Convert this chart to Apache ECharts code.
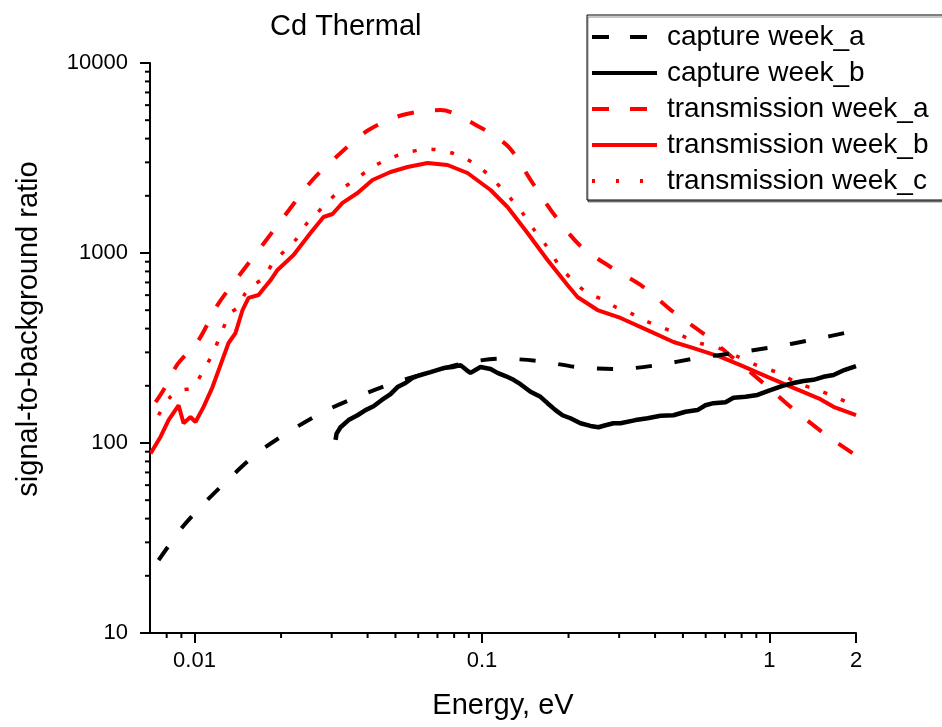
<!DOCTYPE html>
<html><head><meta charset="utf-8">
<script src="https://cdn.jsdelivr.net/npm/echarts@6/dist/echarts.min.js"></script>
<style>html,body{margin:0;padding:0;background:#fff}#c{width:942px;height:727px}</style>
</head><body><div id="c"></div>
<script>
// ---- Data (energy in eV, signal-to-background ratio) ----
const seriesNames = ['capture week_a','capture week_b','transmission week_a','transmission week_b','transmission week_c'];

const captureWeekA = [
  [0.0075,24.2],[0.00908,36.1],[0.01066,47.2],[0.01334,66],[0.01656,88.6],[0.02158,116],
  [0.0281,146],[0.0369,175],[0.04923,207],[0.06621,236],[0.0855,262],[0.116,278],
  [0.1572,270],[0.2149,251],[0.296,245],[0.4077,257],[0.5618,280],[0.762,298],
  [1.033,320],[1.388,348],[1.9,384],[2,392]
];

const captureWeekB = [
  [0.03094,104],[0.0312,112],[0.0322,121],[0.03434,132],[0.0369,140],[0.03934,149],
  [0.04194,156],[0.04471,168],[0.04806,181],[0.05083,197],[0.0542,207],[0.05731,220],
  [0.06111,228],[0.06621,236],[0.07347,248],[0.07897,251],[0.08418,257],[0.08834,242],
  [0.0912,234],[0.09881,251],[0.1071,245],[0.1132,234],[0.1207,225],[0.1287,215],
  [0.1361,204],[0.1475,186],[0.1597,175],[0.169,162],[0.1802,149],[0.1905,140],
  [0.2031,135],[0.2201,127],[0.2384,123],[0.2542,121],[0.2689,124],[0.2867,127],
  [0.3032,127],[0.342,132],[0.3765,135],[0.4178,139],[0.4636,140],[0.5104,146],
  [0.5618,149],[0.5989,158],[0.6385,162],[0.7031,164],[0.7495,173],[0.825,175],
  [0.9085,179],[1.008,190],[1.11,200],[1.212,207],[1.313,212],[1.422,215],
  [1.541,223],[1.67,228],[1.82,242],[2,254]
];

const transmissionWeekA = [
  [0.00732,164],[0.0078,190],[0.00873,260],[0.01033,348],[0.01202,532],[0.01434,766],
  [0.01724,1102],[0.02106,1644],[0.02572,2423],[0.03194,3320],[0.0403,4440],[0.0529,5325],
  [0.0717,5650],[0.098,4604],[0.1237,3614],[0.1499,2336],[0.1787,1585],[0.2201,1089],
  [0.28,844],[0.3646,662],[0.4636,489],[0.6038,366],[0.7555,277],[0.976,200],
  [1.241,146],[1.578,110],[2,86]
];

const transmissionWeekB = [
  [0.00703,88],[0.00762,108],[0.00812,132],[0.0088,158],[0.00916,127],[0.00968,137],
  [0.01008,129],[0.01075,155],[0.01155,197],[0.01231,257],[0.01313,336],[0.01388,379],
  [0.01469,501],[0.01541,580],[0.0167,601],[0.01724,639],[0.0184,720],[0.01944,814],
  [0.0221,976],[0.02532,1275],[0.0281,1547],[0.0302,1604],[0.03272,1834],[0.0369,2069],
  [0.0416,2423],[0.04806,2669],[0.05508,2835],[0.06464,2976],[0.07586,2905],[0.08905,2637],
  [0.1071,2146],[0.1227,1746],[0.144,1275],[0.169,919],[0.1983,678],[0.2149,587],
  [0.2522,501],[0.3032,455],[0.3765,393],[0.4636,340],[0.5441,316],[0.6754,284],
  [0.7926,257],[0.9842,223],[1.212,195],[1.504,170],[1.67,155],[2,140]
];

const transmissionWeekC = [
  [0.0075,140],[0.00825,175],[0.00908,190],[0.00984,195],[0.01075,242],[0.01155,294],
  [0.01251,393],[0.01334,483],[0.01422,520],[0.01504,616],[0.01604,678],[0.01738,739],
  [0.01883,897],[0.02073,1037],[0.02246,1171],[0.02433,1404],[0.02593,1547],[0.02901,1855],
  [0.0322,2146],[0.0369,2481],[0.0416,2835],[0.04806,3162],[0.05597,3401],[0.06464,3527],
  [0.07647,3401],[0.08834,3124],[0.09881,2802],[0.1105,2393],[0.1237,1995],[0.1384,1624],
  [0.1511,1337],[0.1676,1089],[0.186,855],[0.2064,721],[0.2328,616],[0.2646,566],
  [0.296,513],[0.3285,483],[0.3646,444],[0.4279,403],[0.4901,370],[0.5708,336],
  [0.6646,316],[0.78,284],[0.9157,254],[1.075,234],[1.251,207],[1.469,190],
  [1.724,173],[2,155]
];

// ---- Axis tick values ----
const xMin = 0.007, xMax = 2, yMin = 10, yMax = 10000;
const xMinorTicks = [0.008,0.009,0.02,0.03,0.04,0.05,0.06,0.07,0.08,0.09,0.2,0.3,0.4,0.5,0.6,0.7,0.8,0.9];
const yMinorTicks = [20,30,40,50,60,70,80,90,200,300,400,500,600,700,800,900,2000,3000,4000,5000,6000,7000,8000,9000];

const FONT = 'Liberation Sans, Arial, Helvetica, sans-serif';

function fmt(v){
  if (Math.abs(v - 2) < 1e-6) return '2';
  const r = Number(v.toPrecision(3));
  return String(r);
}

function minorTickSeries(data, isX){
  return {
    type:'custom', silent:true, clip:false, z:5,
    data: data,
    renderItem: function(params, api){
      const p = api.coord([api.value(0), api.value(1)]);
      const shape = isX ? {x1:p[0], y1:p[1], x2:p[0], y2:p[1]+5}
                        : {x1:p[0], y1:p[1], x2:p[0]-5, y2:p[1]};
      return {type:'line', shape:shape, style:{stroke:'#000', lineWidth:2}};
    }
  };
}

const noSym = {color:'rgba(0,0,0,0)', borderWidth:0, borderColor:'rgba(0,0,0,0)'};

const chart = echarts.init(document.getElementById('c'), null, {renderer:'canvas'});
chart.setOption({
  animation:false,
  backgroundColor:'#fff',
  textStyle:{fontFamily:FONT},
  title:{
    text:'Cd Thermal', left:265, top:7,
    textStyle:{fontSize:29, fontWeight:'normal', color:'#000', fontFamily:FONT}
  },
  legend:{
    orient:'vertical', left:587, top:15,
    padding:[7,45,4,3],
    itemWidth:65, itemHeight:14, itemGap:6,
    borderColor:'#000', borderWidth:1, backgroundColor:'#fff',
    shadowColor:'rgba(0,0,0,0.45)', shadowOffsetX:1, shadowOffsetY:2, shadowBlur:0,
    itemStyle: noSym,
    textStyle:{fontSize:28, lineHeight:30, color:'#000', fontFamily:FONT, padding:[0,0,0,5]},
    data:[
      {name:seriesNames[0], itemStyle:noSym, lineStyle:{type:[17,21], width:4}},
      {name:seriesNames[1], itemStyle:noSym, lineStyle:{type:'solid', width:4}},
      {name:seriesNames[2], itemStyle:noSym, lineStyle:{type:[17,21], width:4}},
      {name:seriesNames[3], itemStyle:noSym, lineStyle:{type:'solid', width:4}},
      {name:seriesNames[4], itemStyle:noSym, lineStyle:{type:[3,21], width:4}}
    ]
  },
  grid:{left:150, right:86, top:63, bottom:94, containLabel:false, outerBoundsMode:'none'},
  xAxis:{
    type:'log', min:xMin, max:xMax, logBase:10,
    name:'Energy, eV', nameLocation:'middle', nameGap:58,
    nameTextStyle:{fontSize:29, color:'#000', fontFamily:FONT},
    axisLine:{show:true, onZero:false, lineStyle:{color:'#000', width:2}},
    axisTick:{show:true, inside:false, length:10, lineStyle:{color:'#000', width:2}},
    axisLabel:{fontSize:22, color:'#000', margin:17, showMinLabel:false, showMaxLabel:true, formatter:fmt, fontFamily:FONT},
    splitLine:{show:false}, minorTick:{show:false}
  },
  yAxis:{
    type:'log', min:yMin, max:yMax, logBase:10,
    name:'signal-to-background ratio', nameLocation:'middle', nameGap:107,
    nameTextStyle:{fontSize:29, color:'#000', fontFamily:FONT, padding:[0,0,0,38]},
    axisLine:{show:true, onZero:false, lineStyle:{color:'#000', width:2}},
    axisTick:{show:true, inside:false, length:10, lineStyle:{color:'#000', width:2}},
    axisLabel:{fontSize:22, color:'#000', margin:22, formatter:fmt, fontFamily:FONT},
    splitLine:{show:false}, minorTick:{show:false}
  },
  series:[
    minorTickSeries(xMinorTicks.map(v=>[v, yMin]), true),
    minorTickSeries(yMinorTicks.map(v=>[xMin, v]), false),
    {name:seriesNames[3], type:'line', data:transmissionWeekB, showSymbol:false, symbol:'none',
     lineStyle:{color:'#ff0000', width:4, type:'solid'}, itemStyle:{color:'#ff0000'}, z:2},
    {name:seriesNames[4], type:'line', data:transmissionWeekC, showSymbol:false, symbol:'none', smooth:0.3,
     lineStyle:{color:'#ff0000', width:3.5, type:[4,15]}, itemStyle:{color:'#ff0000'}, z:2},
    {name:seriesNames[2], type:'line', data:transmissionWeekA, showSymbol:false, symbol:'none', smooth:0.3,
     lineStyle:{color:'#ff0000', width:4, type:[17,21]}, itemStyle:{color:'#ff0000'}, z:2},
    {name:seriesNames[1], type:'line', data:captureWeekB, showSymbol:false, symbol:'none',
     lineStyle:{color:'#000', width:4.5, type:'solid'}, itemStyle:{color:'#000'}, z:3},
    {name:seriesNames[0], type:'line', data:captureWeekA, showSymbol:false, symbol:'none', smooth:0.3,
     lineStyle:{color:'#000', width:4, type:[16,23]}, itemStyle:{color:'#000'}, z:3}
  ]
});
</script>
</body></html>
